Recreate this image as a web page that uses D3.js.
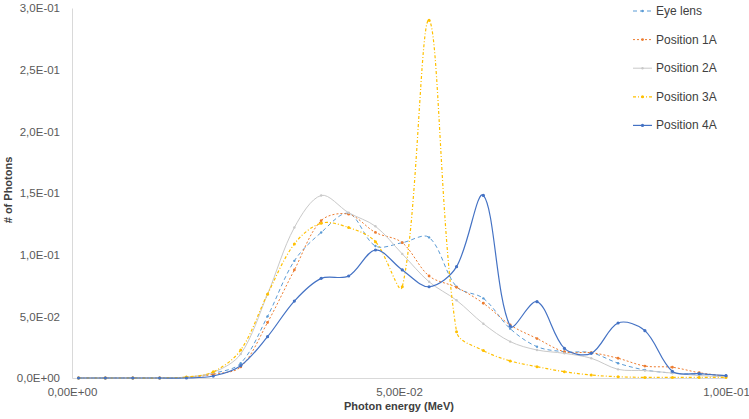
<!DOCTYPE html>
<html>
<head>
<meta charset="utf-8">
<script src="https://cdn.jsdelivr.net/npm/d3@7"></script>
<style>
  body { margin: 0; background: #fff; }
  text { font-family: "Liberation Sans", Arial, sans-serif; }
</style>
</head>
<body>
<div id="chart"></div>
<script>
// photon energy (MeV) of each point
let energies = [0.0010, 0.0051, 0.0093, 0.0134, 0.0175, 0.0216, 0.0258, 0.0299, 0.0340,
    0.0381, 0.0423, 0.0464, 0.0505, 0.0546, 0.0588, 0.0629, 0.0670, 0.0711, 0.0753,
    0.0794, 0.0835, 0.0876, 0.0918, 0.0959, 0.1000];

let eyeLens    = [0, 0, 0, 0, 0.0005, 0.0038, 0.012, 0.050, 0.095, 0.118, 0.1335, 0.107, 0.1097,
    0.114, 0.074, 0.0646, 0.040, 0.0254, 0.0213, 0.0205, 0.012, 0.0065, 0.004, 0.003, 0.002];
let position1A = [0, 0, 0, 0, 0.0005, 0.003, 0.009, 0.045, 0.0876, 0.1276, 0.1328, 0.118, 0.1097,
    0.0827, 0.0735, 0.0606, 0.043, 0.032, 0.0213, 0.0205, 0.016, 0.0097, 0.0087, 0.0043, 0.0015];
let position2A = [0, 0, 0, 0, 0.0008, 0.0045, 0.0195, 0.068, 0.122, 0.148, 0.134, 0.123, 0.1006,
    0.078, 0.063, 0.044, 0.0295, 0.0227, 0.020, 0.016, 0.007, 0.006, 0.004, 0.002, 0.001];
let position3A = [0, 0, 0, 0, 0.0008, 0.005, 0.0227, 0.068, 0.1087, 0.1255, 0.122, 0.1105, 0.074,
    0.290, 0.0376, 0.0222, 0.0138, 0.0092, 0.0051, 0.0024, 0.001, 0.0005, 0.0005, 0.0005, 0.0005];
let position4A = [0, 0, 0, 0, 0, 0.0016, 0.010, 0.0335, 0.0624, 0.0808, 0.0827, 0.1038, 0.0876,
    0.074, 0.0903, 0.148, 0.042, 0.0619, 0.024, 0.020, 0.0446, 0.0384, 0.0054, 0.0035, 0.0019];

let seriesNames = ["Eye lens", "Position 1A", "Position 2A", "Position 3A", "Position 4A"];
let xTicks = [0, 0.05, 0.1];
let yTicks = [0, 0.05, 0.1, 0.15, 0.2, 0.25, 0.3];

let svgWidth = 749;
let svgHeight = 419;

let margin = { top: 8, right: 23, bottom: 41, left: 72 };
let width = svgWidth - margin.left - margin.right;
let height = svgHeight - margin.top - margin.bottom;

let svg = d3.select("#chart")
  .append("svg")
  .attr("width", svgWidth)
  .attr("height", svgHeight);

let chartGroup = svg.append("g")
  .attr("transform", `translate(${margin.left}, ${margin.top})`);

let xScale = d3.scaleLinear().domain([0, 0.1]).range([0, width]);
let yScale = d3.scaleLinear().domain([0, 0.3]).range([height, 0]);

// comma decimal formats like the original
let fmtX = d => d3.format(".2e")(d).replace(".", ",").replace(/e([+-])(\d)$/, "E$10$2");
let fmtY = d => d3.format(".1e")(d).replace(".", ",").replace(/e([+-])(\d)$/, "E$10$2");

let bottomAxis = d3.axisBottom(xScale).tickValues(xTicks).tickFormat(fmtX).tickSize(0).tickPadding(10);
let leftAxis = d3.axisLeft(yScale).tickValues(yTicks).tickFormat(fmtY).tickSize(0).tickPadding(12);

let xAxis = chartGroup.append("g")
  .attr("transform", `translate(0, ${height})`)
  .call(bottomAxis);
let yAxis = chartGroup.append("g").call(leftAxis);

[xAxis, yAxis].forEach(ax => {
  ax.select(".domain").attr("stroke", "#d9d9d9").attr("stroke-width", 1);
  ax.selectAll("text")
    .attr("font-family", "Liberation Sans, Arial, sans-serif")
    .attr("font-size", "11.5px")
    .attr("fill", "#595959");
});

let series = [
  { name: seriesNames[0], values: eyeLens,    color: "#5b9bd5", dash: "4,3",      width: 1,   r: 1.2 },
  { name: seriesNames[1], values: position1A, color: "#ed7d31", dash: "2,2",      width: 1,   r: 1.4 },
  { name: seriesNames[2], values: position2A, color: "#c9c9c9", dash: null,       width: 1,   r: 1.2 },
  { name: seriesNames[3], values: position3A, color: "#ffc000", dash: "3,2,1,2",  width: 1.2, r: 1.5 },
  { name: seriesNames[4], values: position4A, color: "#4472c4", dash: null,       width: 1.2, r: 1.6 }
];

// spreadsheet-style smoothing: bezier whose tangents shrink next to long segments
function smoothPath(pts) {
  let p = d3.path();
  let dist = (a, b) => Math.hypot(b[0] - a[0], b[1] - a[1]);
  p.moveTo(pts[0][0], pts[0][1]);
  for (let i = 0; i < pts.length - 1; i++) {
    let p0 = pts[Math.max(i - 1, 0)], p1 = pts[i], p2 = pts[i + 1], p3 = pts[Math.min(i + 2, pts.length - 1)];
    let d01 = dist(p0, p1), d12 = dist(p1, p2), d23 = dist(p2, p3);
    let f1 = (d01 + d12) > 0 ? d12 / (d01 + d12) / 3 : 0;
    let f2 = (d12 + d23) > 0 ? d12 / (d12 + d23) / 3 : 0;
    let c1 = [p1[0] + (p2[0] - p0[0]) * f1, p1[1] + (p2[1] - p0[1]) * f1];
    let c2 = [p2[0] - (p3[0] - p1[0]) * f2, p2[1] - (p3[1] - p1[1]) * f2];
    p.bezierCurveTo(c1[0], c1[1], c2[0], c2[1], p2[0], p2[1]);
  }
  return p.toString();
}

series.forEach(s => {
  let pts = energies.map((e, i) => [xScale(e), yScale(s.values[i])]);
  chartGroup.append("path")
    .attr("fill", "none")
    .attr("stroke", s.color)
    .attr("stroke-width", s.width)
    .attr("stroke-dasharray", s.dash)
    .attr("d", smoothPath(pts));

  chartGroup.append("g").selectAll("circle")
    .data(energies.map((e, i) => [e, s.values[i]]))
    .enter()
    .append("circle")
    .attr("cx", d => xScale(d[0]))
    .attr("cy", d => yScale(d[1]))
    .attr("r", s.r)
    .attr("fill", s.color);
});

// legend
let legend = svg.append("g").attr("transform", "translate(633, 11)");
series.forEach((s, i) => {
  let row = legend.append("g").attr("transform", `translate(0, ${i * 28.6})`);
  row.append("line")
    .attr("x1", 0).attr("x2", 19)
    .attr("stroke", s.color)
    .attr("stroke-width", s.width)
    .attr("stroke-dasharray", s.dash);
  row.append("circle").attr("cx", 9.5).attr("cy", 0).attr("r", s.r).attr("fill", s.color);
  row.append("text")
    .attr("x", 23).attr("y", 4)
    .attr("font-size", "12px")
    .attr("fill", "#404040")
    .text(s.name);
});

// axis titles
svg.append("text")
  .attr("x", margin.left + width / 2)
  .attr("y", 410)
  .attr("text-anchor", "middle")
  .attr("font-size", "11px")
  .attr("font-weight", "bold")
  .attr("fill", "#404040")
  .text("Photon energy (MeV)");

svg.append("text")
  .attr("transform", "rotate(-90)")
  .attr("x", -190)
  .attr("y", 12)
  .attr("text-anchor", "middle")
  .attr("font-size", "11px")
  .attr("font-weight", "bold")
  .attr("fill", "#404040")
  .text("# of Photons");
</script>
</body>
</html>
